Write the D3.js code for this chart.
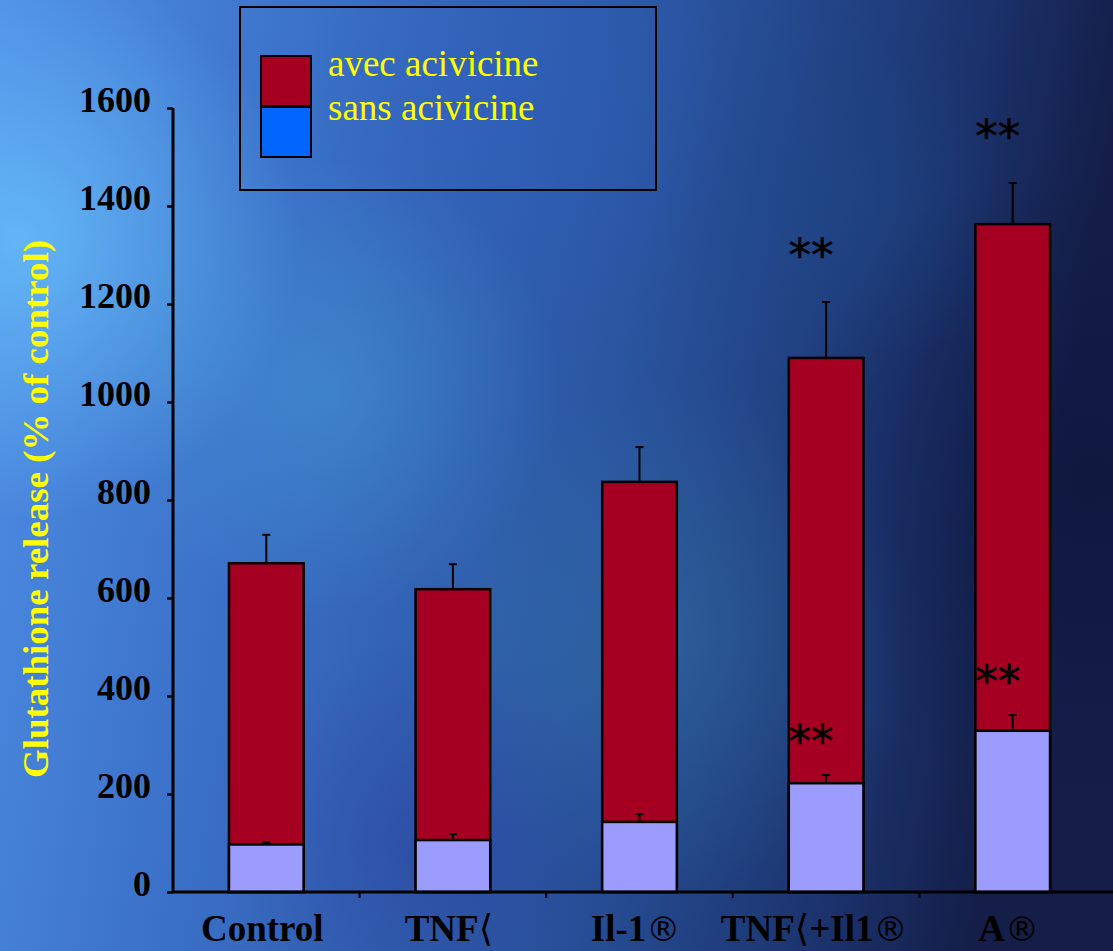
<!DOCTYPE html>
<html>
<head>
<meta charset="utf-8">
<script src="https://cdn.jsdelivr.net/npm/d3@7"></script>
<style>
  html, body { margin: 0; padding: 0; }
  body { width: 1113px; height: 951px; overflow: hidden; }
</style>
</head>
<body>
<div id="chart"></div>
<script>
// data
const groups = ["Control", "TNF\u27E8", "Il-1\u00AE", "TNF\u27E8+Il1\u00AE", "A\u00AE"];
const avecValues = [671, 618, 837, 1090, 1363];
const avecErrors = [58, 51, 71, 114, 84];
const sansValues = [97, 106, 143, 222, 329];
const sansErrors = [5, 12, 16, 17, 32];
const yTicks = [0, 200, 400, 600, 800, 1000, 1200, 1400, 1600];
const starsTop = ["", "", "", "**", "**"];
const starsInside = ["", "", "", "**", "**"];

const W = 1113, H = 951;
const svg = d3.select("#chart").append("svg")
    .attr("width", W)
    .attr("height", H);

// background
const defs = svg.append("defs");
const bg = defs.append("linearGradient").attr("id", "bg")
    .attr("x1", 0).attr("y1", 0).attr("x2", 1).attr("y2", 0.15);
bg.append("stop").attr("offset", "0%").attr("stop-color", "#4f8fe6");
bg.append("stop").attr("offset", "30%").attr("stop-color", "#3a6fc6");
bg.append("stop").attr("offset", "60%").attr("stop-color", "#2a55a0");
bg.append("stop").attr("offset", "85%").attr("stop-color", "#1c3570");
bg.append("stop").attr("offset", "100%").attr("stop-color", "#141e48");
svg.append("rect").attr("width", W).attr("height", H).attr("fill", "url(#bg)");

const blobs = [
    { id: "b1", cx: 20, cy: 240, r: 280, c: "#6cc8ff", o: 0.7 },
    { id: "b2", cx: 330, cy: 390, r: 230, c: "#4aa8d8", o: 0.4 },
    { id: "b3", cx: 520, cy: 110, r: 220, c: "#2c5cc0", o: 0.4 },
    { id: "b4", cx: 660, cy: 640, r: 260, c: "#3a86b0", o: 0.35 },
    { id: "b5", cx: 420, cy: 840, r: 200, c: "#2c3a9a", o: 0.4 },
    { id: "b6", cx: 1090, cy: 480, r: 320, c: "#0c1238", o: 0.5 },
    { id: "b7", cx: 840, cy: 200, r: 180, c: "#1d4a8a", o: 0.4 }
];
blobs.forEach(b => {
    const g = defs.append("radialGradient").attr("id", b.id);
    g.append("stop").attr("offset", "0%").attr("stop-color", b.c).attr("stop-opacity", b.o);
    g.append("stop").attr("offset", "100%").attr("stop-color", b.c).attr("stop-opacity", 0);
    svg.append("circle").attr("cx", b.cx).attr("cy", b.cy).attr("r", b.r).attr("fill", `url(#${b.id})`);
});

const x0 = 173, x1 = 1106, y0 = 892, y1 = 108;

const x = d3.scaleBand()
    .domain(groups)
    .range([x0, x1])
    .paddingInner(0.6)
    .paddingOuter(0.3);

const y = d3.scaleLinear()
    .domain([0, 1600])
    .range([y0, y1]);

const g = svg.append("g");

// avec acivicine (full height)
g.selectAll(".avec").data(groups).join("rect")
    .attr("class", "avec")
    .attr("x", d => x(d))
    .attr("width", x.bandwidth())
    .attr("y", (d, i) => y(avecValues[i]))
    .attr("height", (d, i) => y(0) - y(avecValues[i]))
    .attr("fill", "#a50021")
    .attr("stroke", "#000")
    .attr("stroke-width", 2.5);

// sans acivicine
g.selectAll(".sans").data(groups).join("rect")
    .attr("class", "sans")
    .attr("x", d => x(d))
    .attr("width", x.bandwidth())
    .attr("y", (d, i) => y(sansValues[i]))
    .attr("height", (d, i) => y(0) - y(sansValues[i]))
    .attr("fill", "#9c9cff")
    .attr("stroke", "#000")
    .attr("stroke-width", 2.5);

// error bars
function errorBars(vals, errs, cls) {
    groups.forEach((d, i) => {
        const cx = x(d) + x.bandwidth() / 2;
        g.append("line").attr("class", cls)
            .attr("x1", cx).attr("x2", cx)
            .attr("y1", y(vals[i])).attr("y2", y(vals[i] + errs[i]))
            .attr("stroke", "#000").attr("stroke-width", 2);
        g.append("line").attr("class", cls)
            .attr("x1", cx - 4).attr("x2", cx + 4)
            .attr("y1", y(vals[i] + errs[i])).attr("y2", y(vals[i] + errs[i]))
            .attr("stroke", "#000").attr("stroke-width", 2);
    });
}
errorBars(avecValues, avecErrors, "err-avec");
errorBars(sansValues, sansErrors, "err-sans");

// significance stars
const starFont = "'DejaVu Sans', sans-serif";
function stars(txt, cx, baseY) {
    g.append("text")
        .attr("x", cx).attr("y", baseY)
        .attr("text-anchor", "middle")
        .attr("font-family", starFont)
        .attr("font-size", 45)
        .attr("fill", "#000")
        .attr("stroke", "#000")
        .attr("stroke-width", 0.6)
        .text(txt);
}
groups.forEach((d, i) => {
    const cx = x(d) + x.bandwidth() / 2 - 15;
    if (starsTop[i]) stars(starsTop[i], cx, y(avecValues[i] + avecErrors[i]) - 31);
    if (starsInside[i]) stars(starsInside[i], cx, y(sansValues[i] + sansErrors[i]) - 18);
});

// axes
const serif = "'Liberation Serif', 'Times New Roman', serif";

const yAxis = svg.append("g")
    .attr("transform", `translate(${x0},0)`)
    .call(d3.axisLeft(y).tickValues(yTicks).tickSize(6).tickPadding(16).tickFormat(d3.format("d")));
yAxis.select(".domain").attr("stroke", "#000").attr("stroke-width", 3)
    .attr("d", `M0,${y1}V${y0}`);
yAxis.selectAll(".tick line").attr("stroke", "#000").attr("stroke-width", 2.5);
yAxis.selectAll(".tick text")
    .attr("fill", "#000")
    .attr("font-family", serif)
    .attr("font-weight", "bold")
    .attr("font-size", 36)
    .attr("dy", "0.1em");

const xAxis = svg.append("g")
    .attr("transform", `translate(0,${y0})`)
    .call(d3.axisBottom(x).tickSize(0).tickPadding(26));
xAxis.select(".domain").attr("stroke", "#000").attr("stroke-width", 3)
    .attr("d", `M${x0},0H${W}`);
xAxis.selectAll(".tick text")
    .attr("fill", "#000")
    .attr("font-family", serif)
    .attr("font-weight", "bold")
    .attr("font-size", 37)
    .attr("dy", "0.62em")
    .attr("dx", (d, i) => i === 3 ? -12 : -4)
    .each(function (d) {
        // split the special glyphs into their own tspans
        const t = d3.select(this).text("");
        d.split(/([\u00AE\u27E8])/).filter(s => s).forEach(s => {
            const ts = t.append("tspan").text(s);
            if (s === "\u00AE") ts.attr("font-family", "'DejaVu Sans', sans-serif").attr("font-weight", "normal").attr("font-size", 34);
            if (s === "\u27E8") ts.attr("font-family", "'DejaVu Serif', serif").attr("font-weight", "normal");
        });
    });

// tick marks between categories
const bounds = d3.range(1, groups.length).map(i => x0 + i * (x1 - x0) / groups.length);
xAxis.selectAll(".sep").data(bounds).join("line")
    .attr("class", "sep")
    .attr("x1", d => d).attr("x2", d => d)
    .attr("y1", 0).attr("y2", 6)
    .attr("stroke", "#000").attr("stroke-width", 2);

// y axis title
svg.append("text")
    .attr("transform", "translate(48,509) rotate(-90)")
    .attr("text-anchor", "middle")
    .attr("font-family", serif)
    .attr("font-weight", "bold")
    .attr("font-size", 36)
    .attr("fill", "#ffff00")
    .attr("textLength", 538)
    .attr("lengthAdjust", "spacingAndGlyphs")
    .text("Glutathione release (% of control)");

// legend
const legend = svg.append("g");
legend.append("rect")
    .attr("x", 240).attr("y", 7).attr("width", 416).attr("height", 183)
    .attr("fill", "none").attr("stroke", "#000").attr("stroke-width", 2);
const legendItems = [
    { label: "avec acivicine", color: "#a50021" },
    { label: "sans acivicine", color: "#0066ff" }
];
legendItems.forEach((d, i) => {
    legend.append("rect")
        .attr("x", 261).attr("y", 56 + i * 51).attr("width", 50).attr("height", 50)
        .attr("fill", d.color).attr("stroke", "#000").attr("stroke-width", 2);
    legend.append("text")
        .attr("x", 328).attr("y", 76 + i * 44)
        .attr("font-family", serif)
        .attr("font-size", 37)
        .attr("fill", "#ffff00")
        .text(d.label);
});
</script>
</body>
</html>
